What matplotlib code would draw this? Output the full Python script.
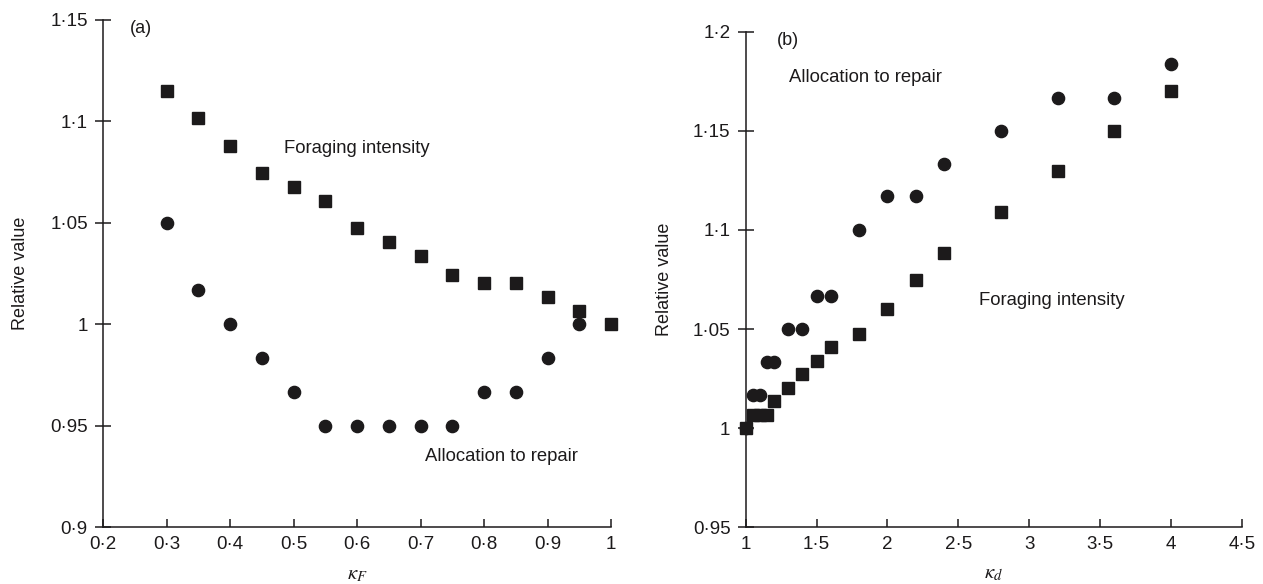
import matplotlib
matplotlib.use("Agg")
import matplotlib.pyplot as plt
from matplotlib.ticker import FuncFormatter

plt.rcParams['font.family'] = ['Liberation Sans', 'DejaVu Sans']
plt.rcParams['mathtext.fontset'] = 'stix'

# panel (a): relative value vs kappa_F
kF = [0.3, 0.35, 0.4, 0.45, 0.5, 0.55, 0.6, 0.65, 0.7, 0.75, 0.8, 0.85, 0.9, 0.95, 1.0]
foraging_a = [1.115, 1.1014, 1.0878, 1.0743, 1.0677, 1.0608, 1.0472, 1.0405, 1.0337,
              1.0242, 1.0203, 1.0203, 1.0134, 1.0066, 1.0]
kF_repair = [0.3, 0.35, 0.4, 0.45, 0.5, 0.55, 0.6, 0.65, 0.7, 0.75, 0.8, 0.85, 0.9, 0.95]
repair_a = [1.05, 1.0167, 1.0, 0.9833, 0.9667, 0.95, 0.95, 0.95, 0.95, 0.95,
            0.9667, 0.9667, 0.9833, 1.0]

# panel (b): relative value vs kappa_d
kd = [1.0, 1.05, 1.1, 1.15, 1.2, 1.3, 1.4, 1.5, 1.6, 1.8, 2.0, 2.2, 2.4, 2.8, 3.2, 3.6, 4.0]
foraging_b = [1.0, 1.0067, 1.0067, 1.0067, 1.0138, 1.0205, 1.0274, 1.034, 1.0408, 1.0474,
              1.0602, 1.075, 1.0885, 1.1092, 1.1295, 1.15, 1.1703]
repair_b = [1.0, 1.0167, 1.0167, 1.0333, 1.0333, 1.05, 1.05, 1.0667, 1.0667, 1.1,
            1.1169, 1.1169, 1.1335, 1.15, 1.1667, 1.1667, 1.1835]

xticks_a = [0.2, 0.3, 0.4, 0.5, 0.6, 0.7, 0.8, 0.9, 1.0]
yticks_a = [0.9, 0.95, 1.0, 1.05, 1.1, 1.15]
xticks_b = [1, 1.5, 2, 2.5, 3, 3.5, 4, 4.5]
yticks_b = [0.95, 1.0, 1.05, 1.1, 1.15, 1.2]

ink = '#1c1a1b'


def dotfmt(v, pos=None):
    s = ('%.2f' % v).rstrip('0').rstrip('.')
    return s.replace('.', '\u00b7')


def style(ax, xt, yt):
    for s in ['top', 'right']:
        ax.spines[s].set_visible(False)
    for s in ['left', 'bottom']:
        ax.spines[s].set_linewidth(1.1)
        ax.spines[s].set_color(ink)
    ax.set_xticks(xt)
    ax.set_yticks(yt)
    ax.set_xlim(xt[0], xt[-1])
    ax.set_ylim(yt[0], yt[-1])
    ax.xaxis.set_major_formatter(FuncFormatter(dotfmt))
    ax.yaxis.set_major_formatter(FuncFormatter(dotfmt))
    ax.tick_params(axis='x', direction='in', length=6, width=1.1, pad=6,
                   labelsize=13.5, color=ink, labelcolor=ink)
    ax.tick_params(axis='y', direction='inout', length=12, width=1.1, pad=5,
                   labelsize=13.5, color=ink, labelcolor=ink)


fig = plt.figure(figsize=(12.63, 5.84), dpi=100)
ax1 = fig.add_axes([0.0816, 0.0971, 0.4022, 0.8695])
ax2 = fig.add_axes([0.5904, 0.0971, 0.3930, 0.8486])

mk = dict(linestyle='none', color=ink, markersize=8.8, clip_on=False)

ax1.plot(kF_repair, repair_a, marker='o', **mk)
ax1.plot(kF, foraging_a, marker='s', **mk)
style(ax1, xticks_a, yticks_a)
ax1.text(0.2425, 1.15, '(a)', fontsize=13, color=ink, va='top')
ax1.text(0.4855, 1.0865, 'Foraging intensity', fontsize=13.3, color=ink, va='center')
ax1.text(0.707, 0.9351, 'Allocation to repair', fontsize=13.3, color=ink, va='center')
ax1.set_ylabel('Relative value', fontsize=13, color=ink)
ax1.yaxis.set_label_coords(-0.146, 0.5)
ax1.set_xlabel(r'$\kappa_F$', fontsize=15, color=ink)
ax1.xaxis.set_label_coords(0.5, -0.075)

ax2.plot(kd, repair_b, marker='o', **mk)
ax2.plot(kd, foraging_b, marker='s', **mk)
style(ax2, xticks_b, yticks_b)
ax2.text(1.22, 1.2, '(b)', fontsize=13, color=ink, va='top')
ax2.text(1.308, 1.1769, 'Allocation to repair', fontsize=13.3, color=ink, va='center')
ax2.text(2.647, 1.0643, 'Foraging intensity', fontsize=13.3, color=ink, va='center')
ax2.set_ylabel('Relative value', fontsize=13, color=ink)
ax2.yaxis.set_label_coords(-0.147, 0.5)
ax2.set_xlabel(r'$\kappa_d$', fontsize=15, color=ink)
ax2.xaxis.set_label_coords(0.5, -0.075)

fig.savefig('out.png', dpi=100)
